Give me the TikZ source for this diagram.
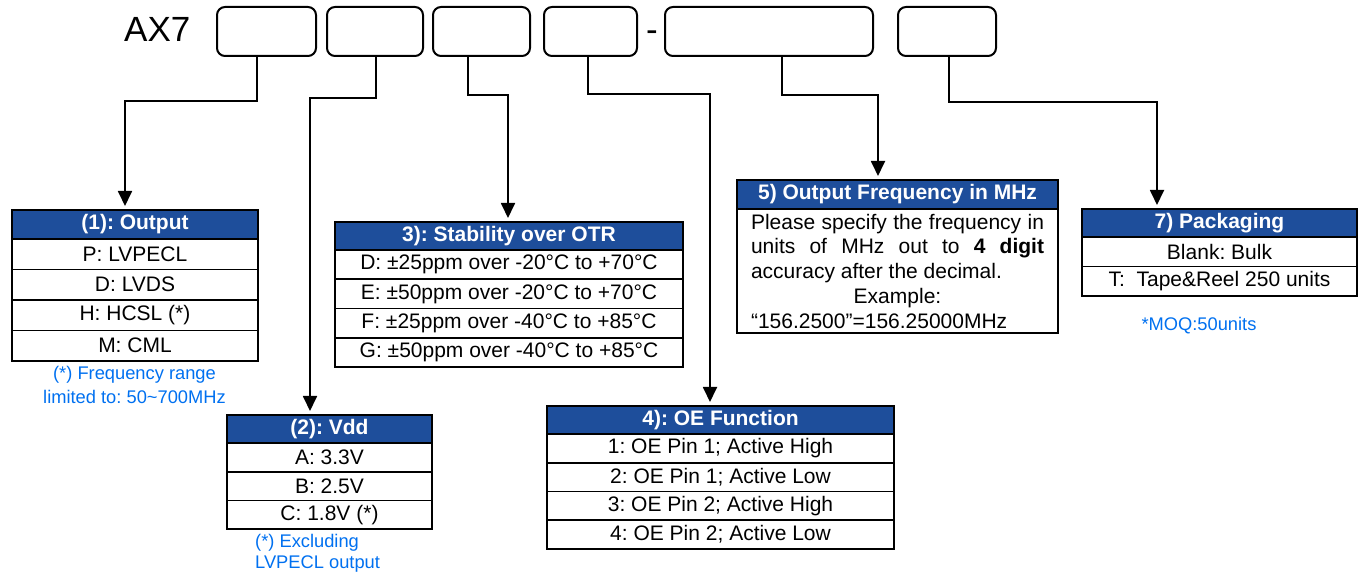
\documentclass[tikz,border=0pt]{standalone}
\usepackage{fontspec}
\setmainfont{Liberation Sans}
\usetikzlibrary{arrows.meta}
\definecolor{hdrblue}{RGB}{30,78,155}
\definecolor{noteblue}{RGB}{0,112,240}
\newcommand\myrowfont{\fontsize{21}{24.5}\selectfont}
\newcommand\myhdrfont{\fontsize{21}{24.5}\selectfont\bfseries}
\newcommand\mynotefont{\fontsize{18.3}{24}\selectfont}
\frenchspacing
\begin{document}
\begin{tikzpicture}[x=1pt,y=-1pt,
  topbox/.style={draw=black, line width=2pt, rounded corners=8pt, minimum height=49pt, anchor=north west, inner sep=0pt, outer sep=0pt},
  hdr/.style={draw=black, fill=hdrblue, text=white, font=\myhdrfont, line width=1.8pt, inner sep=0pt, outer sep=0pt, anchor=north west},
  cell/.style={draw=black, fill=white, font=\myrowfont, line width=1.8pt, inner sep=0pt, outer sep=0pt, anchor=north west},
  conn/.style={line width=1.8pt, -{Triangle[width=14pt,length=15pt]}, shorten >=4pt},
  note/.style={text=noteblue, font=\mynotefont, inner sep=0pt}]
\useasboundingbox (0,0) rectangle (1361,577);

% part number
\node[font=\fontsize{35}{40}\selectfont, anchor=base west, inner sep=0pt] (ax) at (124,42) {AX7};
\node[font=\fontsize{35}{40}\selectfont, anchor=base, inner sep=0pt] (dash) at (652,42) {-};
\node[topbox, minimum width=99pt] (b1) at (217,7) {};
\node[topbox, minimum width=96pt] (b2) at (327,7) {};
\node[topbox, minimum width=97pt] (b3) at (433,7) {};
\node[topbox, minimum width=93pt] (b4) at (544,7) {};
\node[topbox, minimum width=208pt] (b5) at (665,7) {};
\node[topbox, minimum width=98pt] (b6) at (898,7) {};

% table 1
\node[hdr, minimum width=246pt, minimum height=29pt] (t1h) at (12,210) {(1): Output};
\node[cell, minimum width=246pt, minimum height=30.5pt] (t1a) at (12,239) {P: LVPECL};
\node[cell, minimum width=246pt, minimum height=30.5pt] (t1b) at (12,269.5) {D: LVDS};
\node[cell, minimum width=246pt, minimum height=30.5pt] (t1c) at (12,300) {H: HCSL (*)};
\node[cell, minimum width=246pt, minimum height=30.5pt] (t1d) at (12,330.5) {M: CML};
\node[note, align=center] (n1) at (134.5,385) {(*) Frequency range\\limited to: 50\textasciitilde700MHz};

% table 2
\node[hdr, minimum width=205pt, minimum height=28pt] (t2h) at (227,415) {(2): Vdd};
\node[cell, minimum width=205pt, minimum height=28.7pt] (t2a) at (227,443) {A: 3.3V};
\node[cell, minimum width=205pt, minimum height=28.7pt] (t2b) at (227,471.7) {B: 2.5V};
\node[cell, minimum width=205pt, minimum height=28.7pt] (t2c) at (227,500.4) {C: 1.8V (*)};
\node[note, align=left, anchor=west, font=\fontsize{18.3}{21.5}\selectfont] (n2) at (255,553.5) {(*) Excluding\\LVPECL output};

% table 3
\node[hdr, minimum width=348pt, minimum height=28pt] (t3h) at (335,222) {3): Stability over OTR};
\node[cell, minimum width=348pt, minimum height=29.25pt] (t3a) at (335,250) {D: ±25ppm over -20°C to +70°C};
\node[cell, minimum width=348pt, minimum height=29.25pt] (t3b) at (335,279.25) {E: ±50ppm over -20°C to +70°C};
\node[cell, minimum width=348pt, minimum height=29.25pt] (t3c) at (335,308.5) {F: ±25ppm over -40°C to +85°C};
\node[cell, minimum width=348pt, minimum height=29.25pt] (t3d) at (335,337.75) {G: ±50ppm over -40°C to +85°C};

% table 4
\node[hdr, minimum width=347pt, minimum height=28pt] (t4h) at (547,406) {4): OE Function};
\node[cell, minimum width=347pt, minimum height=28.75pt] (t4a) at (547,434) {1: OE Pin 1; Active High};
\node[cell, minimum width=347pt, minimum height=28.75pt] (t4b) at (547,462.75) {2: OE Pin 1; Active Low};
\node[cell, minimum width=347pt, minimum height=28.75pt] (t4c) at (547,491.5) {3: OE Pin 2; Active High};
\node[cell, minimum width=347pt, minimum height=28.75pt] (t4d) at (547,520.25) {4: OE Pin 2; Active Low};

% table 5
\node[hdr, minimum width=321pt, minimum height=29pt] (t5h) at (737,180) {5) Output Frequency in MHz};
\node[cell, minimum width=321pt, minimum height=124pt] (t5b) at (737,209) {\parbox{293pt}{\fontsize{21}{24.75}\selectfont Please specify the frequency in\linebreak units of MHz out to \textbf{4 digit}\linebreak accuracy after the decimal.\par\centerline{Example:}\noindent “156.2500”=156.25000MHz}};

% table 7
\node[hdr, minimum width=275pt, minimum height=28pt] (t7h) at (1082,209) {7) Packaging};
\node[cell, minimum width=275pt, minimum height=29.5pt] (t7a) at (1082,237) {Blank: Bulk};
\node[cell, minimum width=275pt, minimum height=29.5pt] (t7b) at (1082,266.5) {T:\ \ Tape\&Reel 250 units};
\node[note] (n7) at (1199,326) {*MOQ:50units};

% connectors
\draw[conn] ([xshift=-9.5pt]b1.south) -- ++(0,45) -| ([xshift=-10pt]t1h.north);
\draw[conn] ([xshift=1pt]b2.south) -- ++(0,42) -| ([xshift=-19.5pt]t2h.north);
\draw[conn] ([xshift=-13.5pt]b3.south) -- ++(0,39) -| ([xshift=-1pt]t3h.north);
\draw[conn] ([xshift=-2.5pt]b4.south) -- ++(0,38) -| ([xshift=-10.5pt]t4h.north);
\draw[conn] ([xshift=13pt]b5.south) -- ++(0,39) -| ([xshift=-19.5pt]t5h.north);
\draw[conn] ([xshift=2pt]b6.south) -- ++(0,46) -| ([xshift=-62.5pt]t7h.north);
\end{tikzpicture}
\end{document}
